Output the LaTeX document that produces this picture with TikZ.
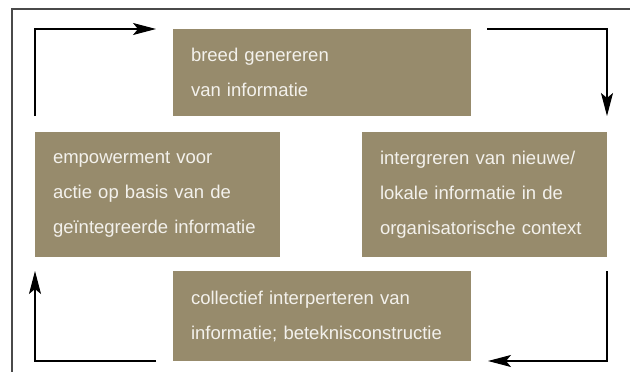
\documentclass[tikz,border=0pt]{standalone}
\usepackage{fontspec}
\setmainfont{Liberation Sans}
\usetikzlibrary{arrows.meta}

\definecolor{stapkleur}{HTML}{978B6C}
\definecolor{staptekst}{HTML}{F3F1EC}
\definecolor{randkleur}{HTML}{4A4A4A}

\tikzset{
  stap/.style={fill=stapkleur, text=staptekst, align=left, anchor=north west,
    inner xsep=18pt, inner ysep=0pt, outer sep=0pt,
    font=\fontsize{18.5}{35}\selectfont},
  pijl/.style={-{Stealth[length=23pt, width=12pt, inset=5pt]}, line width=1.1pt},
}

\begin{document}
\begin{tikzpicture}[x=1pt, y=-1pt]
    \useasboundingbox (0, 0) rectangle (630, 372);

    \draw [randkleur, line width=1.5pt] (630, 9) -- (12, 9) -- (12, 372);

    \node [stap, text width=262pt, minimum height=87pt] (breed) at (173, 29)
      {breed genereren\\van informatie};
    \node [stap, text width=209pt, minimum height=125pt] (empower) at (35, 132)
      {empowerment voor\\actie op basis van de\\geïntegreerde informatie};
    \node [stap, text width=209pt, minimum height=125pt] (integr) at (362, 132)
      {intergreren van nieuwe/\\lokale informatie in de\\organisatorische context};
    \node [stap, text width=262pt, minimum height=90pt] (collect) at (173, 271)
      {collectief interperteren van\\informatie; beteknisconstructie};

    \draw [pijl] (empower.west |- breed.south) |- ([xshift=-17pt]breed.north west);
    \draw [pijl] ([xshift=16pt]breed.north east) -| (integr.east |- breed.south);
    \draw [pijl] (integr.east |- collect.north) |- ([xshift=17pt]collect.south east);
    \draw [pijl] ([xshift=-17pt]collect.south west) -| (empower.west |- collect.north);
%    \draw [pijl] (breed) -- (integr);
  \end{tikzpicture}
\end{document}
